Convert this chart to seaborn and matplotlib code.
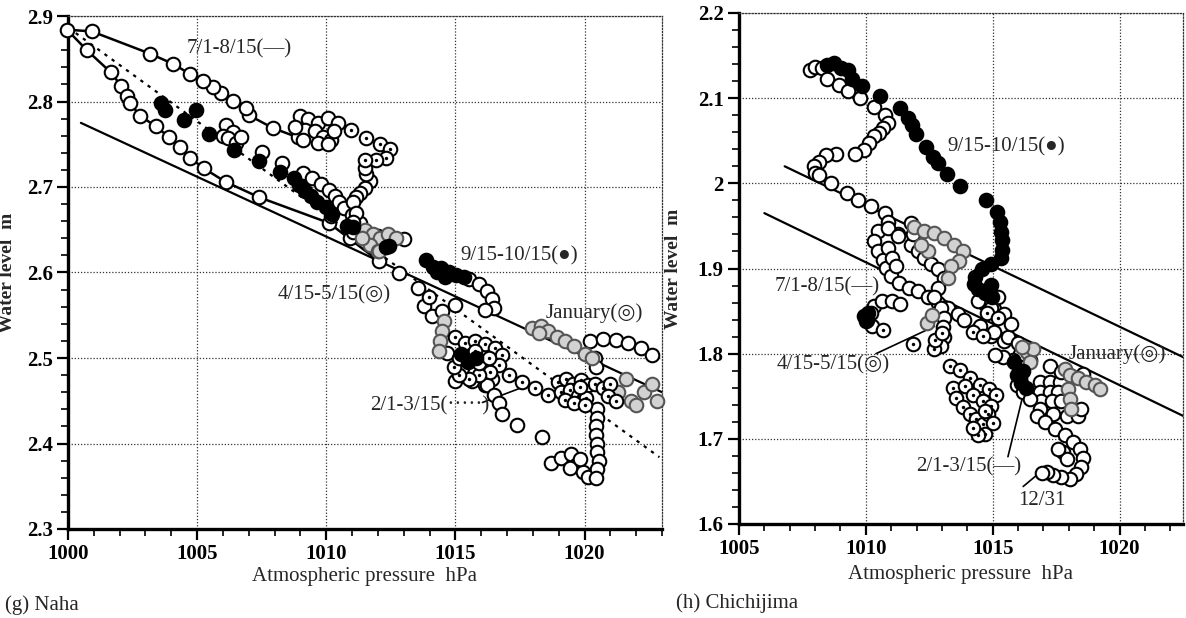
import numpy as np
import pandas as pd
import matplotlib
matplotlib.use("Agg")
import matplotlib.pyplot as plt
from matplotlib.ticker import MultipleLocator, FixedLocator
import seaborn as sns

sns.set_theme(style="white")
plt.rcParams['font.family'] = ['Liberation Serif', 'DejaVu Sans']

# ---------------- Naha data ----------------
naha_typhoon_p = [1008.9, 1007.93, 1007.0, 1006.89, 1006.37, 1005.92, 1005.62, 1005.22, 1004.73, 1004.07,
                  1003.17, 1000.92, 999.96, 1000.73, 1001.66, 1002.06, 1002.28, 1002.4, 1002.8, 1003.4,
                  1003.92, 1004.32, 1004.73, 1005.25, 1006.1, 1007.4, 1010.1, 1012.05]
naha_typhoon_w = [2.758, 2.769, 2.784, 2.792, 2.801, 2.810, 2.817, 2.824, 2.832, 2.844,
                  2.856, 2.882, 2.884, 2.860, 2.834, 2.818, 2.806, 2.798, 2.783, 2.771,
                  2.758, 2.747, 2.734, 2.722, 2.706, 2.688, 2.658, 2.613]

naha_open_p = [1008.97, 1009.29, 1009.68, 1010.06, 1010.45, 1009.16, 1009.55, 1009.87, 1010.19, 1009.68,
               1010.06, 1009.1, 1008.8, 1010.3,
               1006.1, 1006.4, 1006.0, 1006.2, 1006.5, 1006.7,
               1007.5, 1008.3, 1009.1, 1009.45, 1009.8, 1010.1, 1010.35, 1010.5, 1010.7, 1010.2, 1011.0, 1011.3,
               1011.68, 1011.49, 1011.29, 1011.16, 1011.03, 1011.16, 1011.03, 1011.55, 1011.49,
               1010.9, 1011.03, 1011.99, 1013.0, 1012.8, 1013.55, 1014.97, 1013.77, 1014.1, 1014.48, 1014.68,
               1015.52, 1015.9, 1016.23, 1016.42, 1016.48, 1016.15,
               1015.26, 1015.65, 1016.16, 1016.42, 1015.0,
               1016.23, 1016.48, 1016.68, 1016.81, 1017.39, 1018.35,
               1018.71, 1019.1, 1019.48, 1019.68, 1019.42, 1019.94, 1020.13, 1019.81,
               1020.2, 1020.7, 1021.2, 1021.7, 1022.2, 1022.6,
               1020.4, 1020.45, 1020.5, 1020.5, 1020.45, 1020.45, 1020.5, 1020.5, 1020.55, 1020.5, 1020.45]
naha_open_w = [2.783, 2.779, 2.775, 2.781, 2.775, 2.767, 2.765, 2.759, 2.755, 2.752,
               2.750, 2.755, 2.770, 2.765,
               2.772, 2.764, 2.760, 2.757, 2.752, 2.758,
               2.741, 2.728, 2.716, 2.710, 2.703, 2.697, 2.690, 2.682, 2.676, 2.666, 2.667, 2.658,
               2.707, 2.699, 2.693, 2.688, 2.682, 2.670, 2.659, 2.715, 2.722,
               2.640, 2.647, 2.643, 2.639, 2.599, 2.582, 2.562, 2.561, 2.549, 2.555, 2.506,
               2.592, 2.586, 2.578, 2.569, 2.559, 2.556,
               2.488, 2.473, 2.469, 2.476, 2.473,
               2.469, 2.457, 2.447, 2.435, 2.422, 2.408,
               2.377, 2.383, 2.388, 2.375, 2.371, 2.367, 2.361, 2.382,
               2.520, 2.522, 2.521, 2.518, 2.512, 2.503,
               2.500, 2.490, 2.440, 2.430, 2.420, 2.410, 2.400, 2.390, 2.380, 2.370, 2.360]

naha_dot_p = [1010.97, 1011.55, 1012.07, 1012.45, 1012.32, 1011.94, 1011.49, 1013.97,
              1015.0, 1015.39, 1015.77, 1016.16, 1016.55, 1016.8, 1016.68, 1016.35, 1015.9, 1015.52,
              1015.13, 1014.94, 1015.13, 1015.52, 1015.9, 1016.29, 1015.77,
              1017.06, 1017.58, 1018.1, 1018.6,
              1018.97, 1019.29, 1019.55, 1019.87, 1020.13, 1019.1, 1019.42, 1019.74, 1020.06, 1019.23,
              1019.61, 1020.0, 1019.81, 1020.4, 1020.7, 1021.0, 1020.9, 1021.2]
naha_dot_w = [2.767, 2.757, 2.750, 2.744, 2.734, 2.732, 2.732, 2.571,
              2.524, 2.518, 2.520, 2.516, 2.512, 2.504, 2.492, 2.484, 2.480, 2.476,
              2.480, 2.490, 2.500, 2.498, 2.494, 2.500, 2.508,
              2.480, 2.472, 2.465, 2.457,
              2.472, 2.476, 2.470, 2.474, 2.468, 2.460, 2.462, 2.456, 2.453, 2.451,
              2.447, 2.445, 2.466, 2.470, 2.465, 2.470, 2.455, 2.450]

naha_filled_p = [1003.62, 1003.77, 1004.51, 1004.96, 1005.47, 1006.44, 1007.4, 1008.22, 1008.74, 1008.96,
                 1009.18, 1009.41, 1009.63, 1010.0, 1010.22, 1010.82, 1011.03, 1012.3, 1012.44, 1013.86,
                 1014.15, 1014.45, 1014.75, 1015.04, 1015.34, 1014.3, 1014.6, 1015.2, 1015.5, 1015.8]
naha_filled_w = [2.798, 2.790, 2.778, 2.790, 2.762, 2.743, 2.730, 2.718, 2.710, 2.702,
                 2.695, 2.689, 2.683, 2.677, 2.669, 2.654, 2.653, 2.630, 2.631, 2.615,
                 2.607, 2.605, 2.601, 2.597, 2.595, 2.600, 2.595, 2.505, 2.495, 2.500]

naha_jan_p = [1011.5, 1011.8, 1012.1, 1012.4, 1012.7, 1011.7, 1012.0, 1011.4,
              1014.55, 1014.48, 1014.42, 1014.35, 1012.03,
              1017.97, 1018.3, 1018.6, 1018.94, 1019.26, 1019.58, 1018.23, 1020.0, 1020.3,
              1021.3, 1021.8, 1022.3, 1022.8, 1022.6, 1021.6, 1022.0]
naha_jan_w = [2.650, 2.645, 2.640, 2.645, 2.640, 2.632, 2.625, 2.640,
              2.543, 2.531, 2.520, 2.508, 2.625,
              2.535, 2.537, 2.531, 2.525, 2.520, 2.514, 2.529, 2.505, 2.500,
              2.460, 2.450, 2.460, 2.450, 2.470, 2.475, 2.445]

naha_solid_p = [1000.5, 1023.0]
naha_solid_w = [2.775, 2.460]
naha_dotted_p = [1000.3, 1022.9]
naha_dotted_w = [2.880, 2.384]

# ---------------- Chichijima data ----------------
chi_open_p = [1007.8, 1008.0, 1008.28, 1008.48, 1008.96, 1009.3, 1009.78, 1010.33, 1010.74, 1010.87,
              1010.67, 1010.53, 1010.33, 1010.12, 1009.92, 1009.58, 1008.83, 1008.42, 1008.14, 1007.94,
              1008.0, 1008.14, 1008.62, 1009.26, 1009.71, 1010.19, 1010.74, 1010.87, 1011.28,
              1010.46, 1010.33, 1010.46, 1010.66, 1010.79, 1010.99, 1011.32, 1011.71, 1012.04, 1012.43,
              1012.83, 1013.22, 1013.62, 1013.88, 1014.41, 1014.93, 1015.46,
              1010.86, 1011.25, 1010.86, 1011.05, 1011.18,
              1011.78, 1012.04, 1012.3, 1012.57, 1012.83, 1013.09, 1012.83, 1012.7, 1012.96, 1013.09,
              1013.03, 1013.09, 1012.96, 1011.78, 1011.84,
              1010.32, 1010.65, 1011.04, 1011.36, 1010.19, 1010.26,
              1014.65, 1015.05, 1015.4, 1015.46, 1015.05, 1014.5, 1015.6, 1016.0, 1014.41, 1014.93,
              1015.46, 1015.72, 1015.2,
              1016.86, 1017.25, 1017.64, 1016.86, 1017.25, 1017.58, 1016.92, 1017.32, 1017.71, 1017.25,
              1017.71, 1018.17, 1018.56, 1016.47, 1016.07, 1015.81, 1015.42, 1015.09,
              1015.94, 1016.07, 1016.2, 1016.47, 1016.86, 1017.38, 1017.91, 1018.36, 1018.49,
              1016.73, 1017.05, 1017.45, 1017.84, 1018.17, 1018.43, 1018.56, 1018.49, 1018.3, 1018.04,
              1017.71, 1017.38, 1017.12, 1017.77, 1017.91, 1017.58, 1016.96]
chi_open_w = [2.133, 2.137, 2.135, 2.122, 2.116, 2.108, 2.100, 2.090, 2.080, 2.071,
              2.065, 2.059, 2.055, 2.047, 2.039, 2.035, 2.035, 2.033, 2.025, 2.020,
              2.012, 2.010, 2.000, 1.989, 1.980, 1.973, 1.965, 1.955, 1.941,
              1.944, 1.932, 1.920, 1.910, 1.901, 1.891, 1.883, 1.877, 1.873, 1.866,
              1.860, 1.854, 1.846, 1.839, 1.829, 1.821, 1.815,
              1.947, 1.938, 1.924, 1.912, 1.903,
              1.928, 1.920, 1.912, 1.905, 1.899, 1.889, 1.877, 1.866, 1.854, 1.842,
              1.831, 1.819, 1.809, 1.953, 1.940,
              1.856, 1.862, 1.862, 1.858, 1.848, 1.833,
              1.860, 1.852, 1.844, 1.832, 1.826, 1.832, 1.820, 1.813, 1.862, 1.854,
              1.846, 1.835, 1.866,
              1.767, 1.767, 1.767, 1.755, 1.755, 1.755, 1.745, 1.745, 1.745, 1.786,
              1.778, 1.773, 1.776, 1.792, 1.800, 1.792, 1.796, 1.798,
              1.763, 1.771, 1.755, 1.747, 1.735, 1.729, 1.727, 1.727, 1.735,
              1.727, 1.720, 1.712, 1.704, 1.696, 1.688, 1.678, 1.667, 1.659, 1.653,
              1.655, 1.657, 1.661, 1.684, 1.676, 1.688, 1.660]

chi_filled_p = [1008.48, 1008.76, 1009.03, 1009.3, 1009.44, 1009.85, 1010.55, 1011.35, 1011.65, 1011.8,
                1011.97, 1012.36, 1012.66, 1012.86, 1013.19, 1013.7, 1014.74, 1015.15, 1015.28, 1015.34,
                1015.36, 1015.36, 1015.31, 1014.95, 1014.56, 1014.29, 1014.25, 1014.43, 1014.7, 1014.97,
                1014.93, 1009.94, 1010.08, 1010.0, 1010.06,
                1015.85, 1015.95, 1016.1, 1016.2, 1016.3]
chi_filled_w = [2.139, 2.141, 2.135, 2.133, 2.122, 2.114, 2.102, 2.089, 2.077, 2.068,
                2.058, 2.043, 2.031, 2.024, 2.011, 1.997, 1.980, 1.966, 1.955, 1.943,
                1.933, 1.922, 1.912, 1.905, 1.899, 1.890, 1.882, 1.876, 1.871, 1.866,
                1.881, 1.844, 1.848, 1.838, 1.840,
                1.790, 1.775, 1.765, 1.780, 1.760]

chi_dot_p = [1010.69, 1011.85, 1012.67, 1012.74, 1013.0,
             1013.31, 1013.7, 1014.09, 1014.48, 1014.87, 1015.13, 1013.44, 1013.57, 1013.83, 1014.09,
             1014.35, 1014.61, 1014.68, 1014.42, 1014.22, 1013.9, 1014.22, 1014.61, 1014.94, 1014.81,
             1015.0, 1014.68, 1014.78, 1015.19, 1014.22, 1014.61]
chi_dot_w = [1.828, 1.811, 1.805, 1.816, 1.824,
             1.785, 1.781, 1.771, 1.763, 1.758, 1.752, 1.760, 1.748, 1.737, 1.729,
             1.723, 1.717, 1.706, 1.704, 1.713, 1.762, 1.752, 1.744, 1.738, 1.729,
             1.719, 1.733, 1.848, 1.842, 1.825, 1.821]

chi_jan_p = [1011.91, 1012.3, 1012.7, 1013.09, 1013.49, 1013.82, 1013.68, 1013.36, 1013.22, 1012.43,
             1012.17, 1017.84, 1018.04, 1018.36, 1018.69, 1019.02, 1019.21, 1017.97, 1018.04, 1018.1,
             1016.34, 1016.6, 1016.14, 1016.47, 1012.4, 1012.6]
chi_jan_w = [1.949, 1.944, 1.942, 1.936, 1.928, 1.920, 1.909, 1.903, 1.889, 1.920,
             1.928, 1.782, 1.775, 1.771, 1.767, 1.763, 1.759, 1.759, 1.747, 1.735,
             1.802, 1.806, 1.808, 1.790, 1.836, 1.845]

chi_upper_p = [1006.8, 1022.5]
chi_upper_w = [2.020, 1.796]
chi_lower_p = [1006.0, 1022.5]
chi_lower_w = [1.965, 1.727]

naha_yticks = [2.3, 2.4, 2.5, 2.6, 2.7, 2.8, 2.9]
naha_ylabels = ["2.3", "2.4", "2.5", "2.6", "2.7", "2.8", "2.9"]
naha_xticks = [1000, 1005, 1010, 1015, 1020]
chi_yticks = [1.6, 1.7, 1.8, 1.9, 2.0, 2.1, 2.2]
chi_ylabels = ["1.6", "1.7", "1.8", "1.9", "2", "2.1", "2.2"]
chi_xticks = [1005, 1010, 1015, 1020]

# ---------------- figure ----------------
fig = plt.figure(figsize=(11.86, 6.18), dpi=100)
ax1 = fig.add_axes([68/1186, 89/618, 594/1186, 513/618])
ax2 = fig.add_axes([739/1186, 94/618, 444/1186, 511/618])

S = 95
LW = 1.5


def pts(ax, p, w, face, edge='black', z=4):
    sns.scatterplot(x=p, y=w, ax=ax, s=S, marker='o', facecolor=face, edgecolor=edge,
                    linewidth=LW, zorder=z, clip_on=False, legend=False)


def dots(ax, p, w):
    pts(ax, p, w, 'white')
    sns.scatterplot(x=p, y=w, ax=ax, s=6, marker='o', color='black', linewidth=0,
                    zorder=5, clip_on=False, legend=False)


def style(ax, xlim, ylim, xticks, yticks, ylabels, ylab_x, xlabpad):
    ax.set_xlim(*xlim)
    ax.set_ylim(*ylim)
    ax.xaxis.set_major_locator(FixedLocator(xticks))
    ax.xaxis.set_minor_locator(MultipleLocator(1))
    ax.yaxis.set_major_locator(FixedLocator(yticks))
    ax.yaxis.set_minor_locator(MultipleLocator(0.02))
    ax.set_yticklabels(ylabels)
    ax.grid(True, which='major', linestyle=(0, (1, 1.5)), color='#333333', linewidth=0.9)
    for side in ['left', 'bottom']:
        ax.spines[side].set_linewidth(2.4)
        ax.spines[side].set_color('black')
    for side in ['top', 'right']:
        ax.spines[side].set_linestyle((0, (1, 1.5)))
        ax.spines[side].set_linewidth(0.9)
        ax.spines[side].set_color('#333333')
    ax.tick_params(which='major', direction='out', length=8, width=1.6, colors='black',
                   labelsize=15, bottom=True, left=True, top=False, right=False, pad=3)
    ax.tick_params(which='minor', direction='out', length=5, width=1.2, colors='black',
                   bottom=True, left=True, top=False, right=False)
    for lab in ax.get_xticklabels() + ax.get_yticklabels():
        lab.set_fontweight('bold')
    ax.set_xlabel("Atmospheric pressure  hPa", fontsize=15, labelpad=xlabpad)
    ax.set_ylabel("Water level  m", fontsize=14, fontweight='bold')
    ax.yaxis.set_label_coords(ylab_x, 0.5)
    ax.set_facecolor('white')


# ---- Naha panel ----
style(ax1, (1000, 1023), (2.3, 2.9), naha_xticks, naha_yticks, naha_ylabels, -0.088, 2)
sns.lineplot(x=naha_solid_p, y=naha_solid_w, ax=ax1, color='black', linewidth=1.6, zorder=3)
sns.lineplot(x=naha_dotted_p, y=naha_dotted_w, ax=ax1, color='black', linewidth=1.6,
             linestyle=(0, (1.5, 2.5)), zorder=3)
sns.lineplot(x=naha_typhoon_p, y=naha_typhoon_w, ax=ax1, sort=False, estimator=None,
             color='black', linewidth=1.8, zorder=3)
pts(ax1, naha_typhoon_p, naha_typhoon_w, 'white')
pts(ax1, naha_open_p, naha_open_w, 'white')
pts(ax1, naha_jan_p, naha_jan_w, '#d2d2d2', edge='#555555')
dots(ax1, naha_dot_p, naha_dot_w)
pts(ax1, naha_filled_p, naha_filled_w, 'black')

fs = 15
ax1.text(1004.6, 2.862, "7/1-8/15(—)", fontsize=fs, va='center', ha='left', zorder=6)
ax1.text(1015.2, 2.620, "9/15-10/15(●)", fontsize=fs, va='center', ha='left', zorder=6)
ax1.text(1008.1, 2.574, "4/15-5/15(◎)", fontsize=fs, va='center', ha='left', zorder=6)
ax1.text(1018.5, 2.553, "January(◎)", fontsize=fs, va='center', ha='left', zorder=6)
ax1.text(1011.7, 2.444, "2/1-3/15(·····)", fontsize=fs, va='center', ha='left', zorder=6)
ax1.plot([1016.05, 1017.8], [2.448, 2.468], color='black', linewidth=1.2, zorder=3)

# ---- Chichijima panel ----
style(ax2, (1005, 1022.5), (1.6, 2.2), chi_xticks, chi_yticks, chi_ylabels, -0.128, 4)
sns.lineplot(x=chi_upper_p, y=chi_upper_w, ax=ax2, color='black', linewidth=1.6, zorder=3)
sns.lineplot(x=chi_lower_p, y=chi_lower_w, ax=ax2, color='black', linewidth=1.6, zorder=3)
pts(ax2, chi_open_p, chi_open_w, 'white')
pts(ax2, chi_jan_p, chi_jan_w, '#d2d2d2', edge='#555555')
dots(ax2, chi_dot_p, chi_dot_w)
pts(ax2, chi_filled_p, chi_filled_w, 'black')

ax2.text(1013.2, 2.043, "9/15-10/15(●)", fontsize=fs, va='center', ha='left', zorder=6)
ax2.text(1006.4, 1.879, "7/1-8/15(—)", fontsize=fs, va='center', ha='left', zorder=6)
ax2.text(1006.5, 1.787, "4/15-5/15(◎)", fontsize=fs, va='center', ha='left', zorder=6)
ax2.plot([1010.4, 1012.7], [1.800, 1.832], color='black', linewidth=1.2, zorder=3)
ax2.text(1018.0, 1.800, "January(◎)", fontsize=fs, va='center', ha='left', zorder=6)
ax2.text(1012.0, 1.667, "2/1-3/15(—)", fontsize=fs, va='center', ha='left', zorder=6)
ax2.plot([1015.6, 1016.15], [1.679, 1.746], color='black', linewidth=1.2, zorder=3)
ax2.text(1016.0, 1.628, "12/31", fontsize=fs, va='center', ha='left', zorder=6)
ax2.plot([1016.2, 1017.0], [1.644, 1.664], color='black', linewidth=1.2, zorder=3)

fig.text(5/1186, 1 - 605/618, "(g) Naha", fontsize=15, va='center', ha='left')
fig.text(676/1186, 1 - 603/618, "(h) Chichijima", fontsize=15, va='center', ha='left')

fig.savefig("out.png", dpi=100, facecolor='white')
